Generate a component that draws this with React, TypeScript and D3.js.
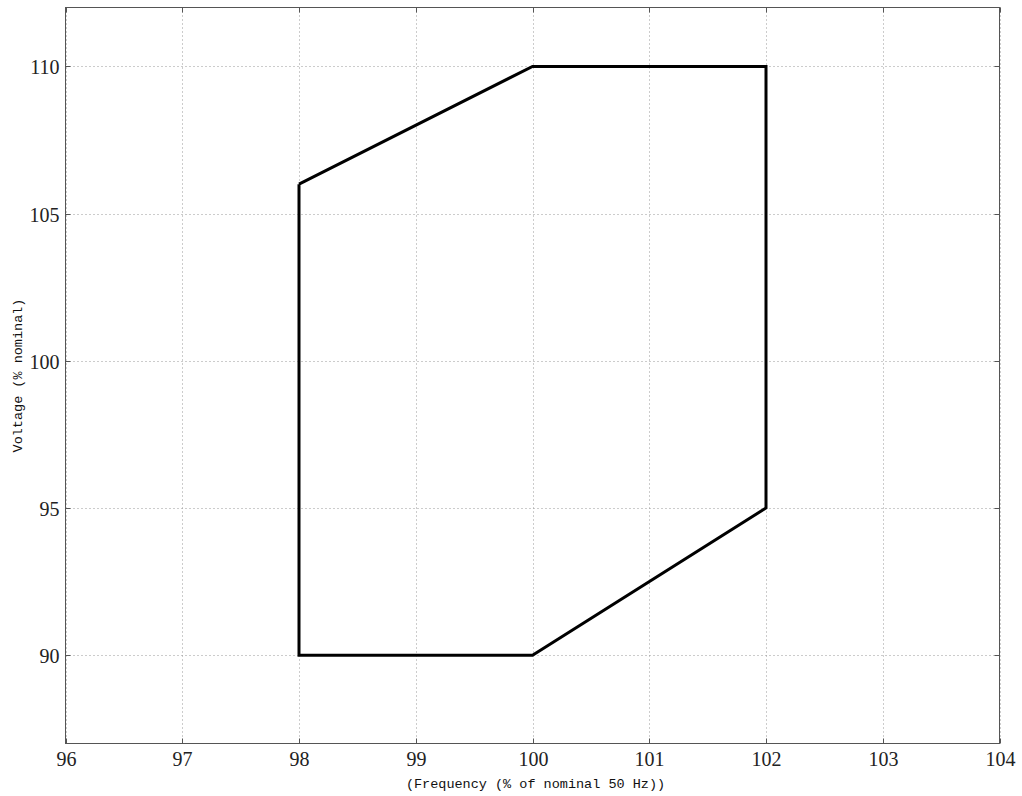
import React from "react";
import * as d3 from "d3";

const xTicks = [96, 97, 98, 99, 100, 101, 102, 103, 104];
const yTicks = [90, 95, 100, 105, 110];
const freq = [98, 100, 102, 102, 100, 98, 98];
const volt = [106, 110, 110, 95, 90, 90, 106];
const xDomain = [96, 104];
const yDomain = [87, 112];

export default function App() {
  const W = 1022, H = 796;
  const L = 65.5, R = 999.5, T = 7.5, B = 743.5;
  const x = d3.scaleLinear().domain(xDomain).range([L, R]);
  const y = d3.scaleLinear().domain(yDomain).range([B, T]);
  const pts: [number, number][] = freq.map((f, i) => [f, volt[i]]);
  const line = d3.line<[number, number]>().x(d => x(d[0])).y(d => y(d[1]));
  const tl = 5;
  return (
    <svg width={W} height={H} style={{ position: "absolute", left: 0, top: 0, background: "#fff" }}>
      <rect x={0} y={0} width={W} height={H} fill="#fff" />
      {xTicks.map(t => (
        <line key={"gx" + t} x1={Math.round(x(t)) + 0.5} x2={Math.round(x(t)) + 0.5} y1={T} y2={B}
          stroke="#999" strokeWidth={1} strokeDasharray="1,3" />
      ))}
      {yTicks.map(t => (
        <line key={"gy" + t} x1={L} x2={R} y1={Math.round(y(t)) + 0.5} y2={Math.round(y(t)) + 0.5}
          stroke="#999" strokeWidth={1} strokeDasharray="1,3" />
      ))}
      <rect x={L} y={T} width={R - L} height={B - T} fill="none" stroke="#555" strokeWidth={1} />
      {xTicks.map(t => {
        const px = Math.round(x(t)) + 0.5;
        return (
          <g key={"tx" + t}>
            <line x1={px} x2={px} y1={B} y2={B - tl} stroke="#555" />
            <line x1={px} x2={px} y1={T} y2={T + tl} stroke="#555" />
            <text x={px} y={B + 22} textAnchor="middle" fontFamily="'Liberation Serif', serif" fontSize={20} fill="#222">{t}</text>
          </g>
        );
      })}
      {yTicks.map(t => {
        const py = Math.round(y(t)) + 0.5;
        return (
          <g key={"ty" + t}>
            <line x1={L} x2={L + tl} y1={py} y2={py} stroke="#555" />
            <line x1={R} x2={R - tl} y1={py} y2={py} stroke="#555" />
            <text x={L - 6} y={py} textAnchor="end" dominantBaseline="central" fontFamily="'Liberation Serif', serif" fontSize={20} fill="#222">{t}</text>
          </g>
        );
      })}
      <path d={line(pts) || ""} fill="none" stroke="#000" strokeWidth={3} strokeLinejoin="miter" />
      <text x={(L + R) / 2 + 3} y={788} textAnchor="middle" fontFamily="'Liberation Mono', monospace" fontSize={13.5} fill="#111">(Frequency (% of nominal 50 Hz))</text>
      <text transform={`translate(22, ${(T + B) / 2}) rotate(-90)`} textAnchor="middle" fontFamily="'Liberation Mono', monospace" fontSize={13.5} fill="#111">Voltage (% nominal)</text>
    </svg>
  );
}
